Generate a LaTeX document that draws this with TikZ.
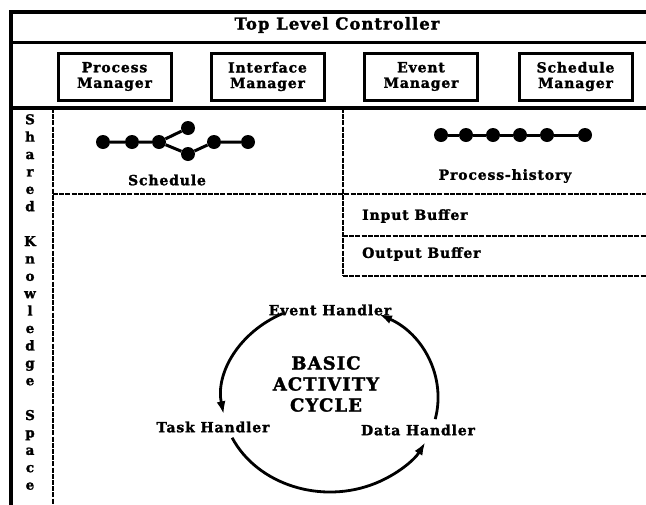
\documentclass[tikz,border=0pt]{standalone}
\usepackage{fontspec}
\setmainfont{DejaVu Serif}[LetterSpace=6, BoldFeatures={FakeBold=1.6}]
\usetikzlibrary{arrows.meta}
\begin{document}
\begin{tikzpicture}[x=1pt,y=-1pt,
  framew/.style={line width=4pt},
  mgr/.style={draw, line width=3pt, minimum width=113pt, minimum height=47pt, inner sep=0pt, align=center, font=\bfseries\fontsize{14}{15.5}\selectfont},
  lbl/.style={inner sep=0pt, font=\bfseries\fontsize{14}{16}\selectfont},
  titlef/.style={inner sep=0pt, font=\bfseries\fontsize{16.5}{19}\selectfont},
  bigf/.style={inner sep=0pt, align=center, font=\bfseries\fontsize{18}{21}\selectfont},
  dline/.style={line width=1.7pt, dash pattern=on 5pt off 1.2pt},
  dotn/.style={circle, fill, inner sep=0pt, minimum size=14pt},
  gedge/.style={line width=3pt},
  cyc/.style={line width=2.8pt, -{Latex[length=13pt,width=9pt]}},
]
\useasboundingbox (0,0) rectangle (646,504);
\clip (0,0) rectangle (646,504);
\fill[white] (0,0) rectangle (646,504);

% frame
\draw[framew] (11,12) rectangle (670,530);
\draw[line width=3pt] (11,42) -- (670,42);
\draw[framew] (11,108) -- (670,108);

\node[titlef] (tlc) at (337,25) {Top Level Controller};

\node[mgr] (pm) at (114.5,76.5) {Process\\Manager};
\node[mgr] (im) at (267.5,76.5) {Interface\\Manager};
\node[mgr] (em) at (421,76.5) {Event\\Manager};
\node[mgr] (sm) at (575.5,76.5) {Schedule\\Manager};

% shared knowledge column
\draw[dline] (53,108) -- (53,530);
\node[inner sep=0pt, align=center, font=\bfseries\fontsize{13.5}{17.4}\selectfont] (skc) at (30,302)
 {S\\h\\a\\r\\e\\d\\\mbox{}\\K\\n\\o\\w\\l\\e\\d\\g\\e\\\mbox{}\\S\\p\\a\\c\\e};

% dashed partitions
\draw[dline] (53,194) -- (670,194);
\draw[dline] (343,108) -- (343,276);
\draw[dline] (343,236) -- (670,236);
\draw[dline] (343,276) -- (670,276);

% schedule graph
\node[dotn] (s1) at (103,142) {};
\node[dotn] (s2) at (132,142) {};
\node[dotn] (s3) at (159,142) {};
\node[dotn] (s4) at (188,128) {};
\node[dotn] (s5) at (188,154) {};
\node[dotn] (s6) at (214,142) {};
\node[dotn] (s7) at (248,142) {};
\draw[gedge] (s1) -- (s2) -- (s3) -- (s4);
\draw[gedge] (s3) -- (s5) -- (s6) -- (s7);
\node[lbl] (sch) at (167,180) {Schedule};

% process history
\node[dotn] (h1) at (441,135) {};
\node[dotn] (h2) at (466,135) {};
\node[dotn] (h3) at (493,135) {};
\node[dotn] (h4) at (520,135) {};
\node[dotn] (h5) at (547,135) {};
\node[dotn] (h6) at (585,135) {};
\draw[gedge] (h1) -- (h2) -- (h3) -- (h4) -- (h5) -- (h6);
\node[lbl] (ph) at (505,176) {Process-history};

\node[lbl, anchor=west] (ib) at (362,216) {Input Buffer};
\node[lbl, anchor=west] (ob) at (362,254) {Output Buffer};

% basic activity cycle
\coordinate (c) at (330,398);
\node[lbl] (eh) at (330,310) {Event Handler};
\node[lbl] (th) at (213,427) {Task Handler};
\node[lbl] (dh) at (418,430) {Data Handler};
\node[bigf] (bac) at (326,384) {BASIC\\ACTIVITY\\CYCLE};
\draw[cyc] (c) ++(244:108 and 94) arc[start angle=244, end angle=170, x radius=108, y radius=94];
\draw[cyc] (c) ++(155:108 and 94) arc[start angle=155, end angle=28, x radius=108, y radius=94];
\draw[cyc] (c) ++(13:108 and 94) arc[start angle=13, end angle=-63, x radius=108, y radius=94];
\end{tikzpicture}
\end{document}
